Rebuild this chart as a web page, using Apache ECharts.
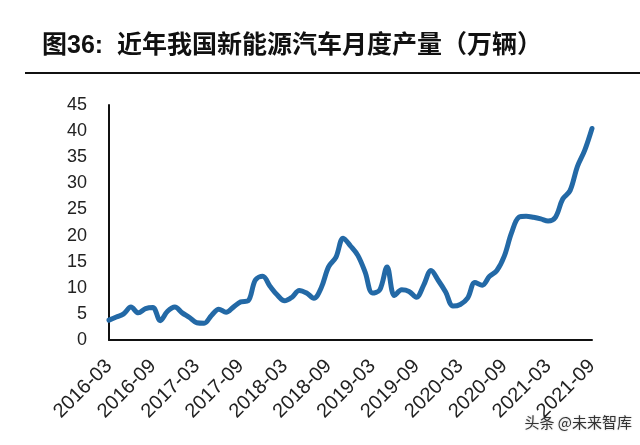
<!DOCTYPE html>
<html>
<head>
<meta charset="utf-8">
<script src="https://cdn.jsdelivr.net/npm/echarts@6/dist/echarts.min.js"></script>
<style>
html,body{margin:0;padding:0;background:#fff;}
#c{width:640px;height:445px;}
</style>
</head>
<body>
<div id="c"></div>
<script>
// Monthly categories 2016-03 .. 2021-09
var categories = [];
(function(){
  var y = 2016, m = 3;
  while (y < 2021 || (y === 2021 && m <= 9)) {
    categories.push(y + '-' + (m < 10 ? '0' + m : '' + m));
    m++; if (m > 12) { m = 1; y++; }
  }
})();

// 新能源汽车月度产量（万辆）
var production = [
  3.8, 4.4, 5.0, 6.3, 5.2, 6.0, 6.2, 3.7, 5.5, 6.3,
  5.2, 4.3, 3.3, 3.2, 4.7, 5.9, 5.3, 6.3, 7.3, 7.5,
  11.5, 12.2, 10.3, 8.6, 7.5, 8.2, 9.5, 9.0, 8.0, 10.0,
  14.0, 15.8, 19.5, 18.0, 16.2, 13.0, 9.0, 9.6, 14.0, 8.5,
  9.6, 9.3, 8.2, 10.5, 13.3, 11.4, 9.2, 6.5, 6.8, 8.0,
  11.0, 10.5, 12.2, 13.3, 16.0, 20.5, 23.5, 23.7, 23.5, 23.2,
  22.8, 23.5, 27.0, 28.6, 33.2, 36.3, 40.5
];

var yTicks = { min: 0, max: 45, interval: 5 };

var titleText = '图36:  近年我国新能源汽车月度产量（万辆）';
var watermark = '头条 @未来智库';

var chart = echarts.init(document.getElementById('c'));
chart.setOption({
  backgroundColor: '#fff',
  animation: false,
  title: {
    text: titleText,
    left: 37,
    top: 29,
    textStyle: {
      fontSize: 25,
      fontWeight: 'bold',
      color: '#111',
      fontFamily: '"Liberation Sans", "Noto Sans CJK SC", sans-serif'
    }
  },
  graphic: [
    {
      type: 'line',
      shape: { x1: 25, y1: 73, x2: 640, y2: 73 },
      style: { stroke: '#111', lineWidth: 2 }
    },
    {
      type: 'text',
      right: 8,
      top: 415,
      style: {
        text: watermark,
        fontSize: 15,
        fill: '#333',
        fontFamily: '"Noto Sans CJK SC", sans-serif',
        textShadowColor: 'rgba(0,0,0,0.25)',
        textShadowBlur: 2
      }
    }
  ],
  grid: { left: 109, right: 48, top: 105, bottom: 105 },
  xAxis: {
    type: 'category',
    data: categories,
    boundaryGap: false,
    axisLine: { lineStyle: { color: '#111', width: 2 } },
    axisTick: { show: false },
    axisLabel: {
      interval: 5,
      rotate: 45,
      margin: 23,
      fontSize: 20,
      color: '#222',
      fontFamily: '"Liberation Sans", Arial, sans-serif'
    },
    splitLine: { show: false }
  },
  yAxis: {
    type: 'value',
    min: yTicks.min,
    max: yTicks.max,
    interval: yTicks.interval,
    axisLine: { show: true, lineStyle: { color: '#111', width: 2 } },
    axisTick: { show: false },
    splitLine: { show: false },
    axisLabel: {
      margin: 22,
      fontSize: 18,
      color: '#222',
      fontFamily: '"Liberation Sans", Arial, sans-serif'
    }
  },
  series: [{
    type: 'line',
    data: production,
    smooth: 0.35,
    showSymbol: false,
    lineStyle: { color: '#2369A6', width: 5, cap: 'round', join: 'round' },
    itemStyle: { color: '#2369A6' }
  }]
});
</script>
</body>
</html>
